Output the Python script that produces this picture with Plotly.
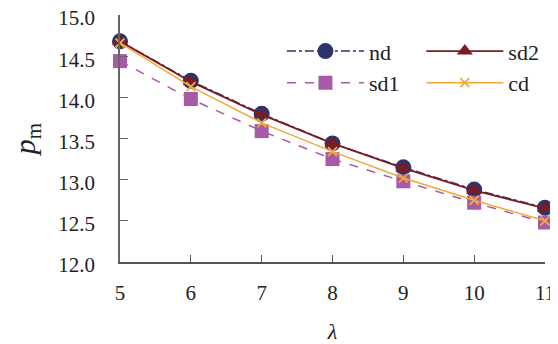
import plotly.graph_objects as go

lam = [5, 6, 7, 8, 9, 10, 11]
nd = [14.68, 14.20, 13.80, 13.44, 13.15, 12.88, 12.66]
sd2 = [14.68, 14.19, 13.79, 13.44, 13.14, 12.87, 12.65]
sd1 = [14.44, 13.98, 13.59, 13.25, 12.98, 12.72, 12.48]
cd = [14.66, 14.13, 13.69, 13.34, 13.02, 12.75, 12.50]

FONT = "Liberation Serif, DejaVu Serif, serif"
C_ND = "#2D336B"
C_SD2 = "#7A1C22"
C_SD1 = "#A65AA8"
C_CD = "#F2A93B"

fig = go.Figure()
fig.add_trace(go.Scatter(x=lam, y=nd, name="nd", mode="lines+markers",
                         line=dict(color=C_ND, width=1.5, dash="dashdot"),
                         marker=dict(symbol="circle", size=16, color=C_ND),
                         cliponaxis=False, legend="legend"))
fig.add_trace(go.Scatter(x=lam, y=sd1, name="sd1", mode="lines+markers",
                         line=dict(color=C_SD1, width=1.5, dash="dash"),
                         marker=dict(symbol="square", size=14, color=C_SD1),
                         cliponaxis=False, legend="legend"))
fig.add_trace(go.Scatter(x=lam, y=sd2, name="sd2", mode="lines+markers",
                         line=dict(color=C_SD2, width=1.8),
                         marker=dict(symbol="triangle-up", size=14, color=C_SD2),
                         cliponaxis=False, legend="legend2"))
fig.add_trace(go.Scatter(x=lam, y=cd, name="cd", mode="lines+markers",
                         line=dict(color=C_CD, width=1.5),
                         marker=dict(symbol="x-thin", size=9, color=C_CD,
                                     line=dict(color=C_CD, width=1.8)),
                         cliponaxis=False, legend="legend2"))

leg_common = dict(font=dict(family=FONT, size=22, color="#222"),
                  bgcolor="rgba(0,0,0,0)", tracegroupgap=0,
                  xanchor="left", yanchor="top", itemwidth=77)
# page body has an 8px margin, so the figure is sized/positioned to compensate
fig.update_layout(
    width=550, height=336,
    margin=dict(l=112, r=13, t=7, b=82, autoexpand=False),
    paper_bgcolor="white", plot_bgcolor="white",
    font=dict(family=FONT, color="#222"),
    legend=dict(x=0.381, y=0.938, **leg_common),
    legend2=dict(x=0.709, y=0.938, **leg_common),
    xaxis=dict(range=[5, 11], tickvals=lam, ticks="inside", ticklen=7,
               tickcolor="#555", showline=True, linecolor="#555", linewidth=1.5,
               showgrid=False, zeroline=False, automargin=False,
               ticklabeloverflow="allow",
               tickfont=dict(family=FONT, size=21, color="#222"),
               ticklabelstandoff=11,
               title=dict(text="<i>λ</i>", font=dict(family=FONT, size=22),
                          standoff=21)),
    yaxis=dict(range=[12, 15], dtick=0.5, tickformat=".1f", ticks="inside",
               ticklen=8, tickcolor="#666", showline=True, linecolor="#666",
               linewidth=1.5, showgrid=False, zeroline=False, automargin=False,
               ticklabeloverflow="allow", ticklabelshift=3,
               tickfont=dict(family=FONT, size=21, color="#222"),
               ticklabelstandoff=19,
               title=dict(text="<i>p</i><sub>m</sub>",
                          font=dict(family=FONT, size=30), standoff=32)),
)
fig.write_html("out.html")
